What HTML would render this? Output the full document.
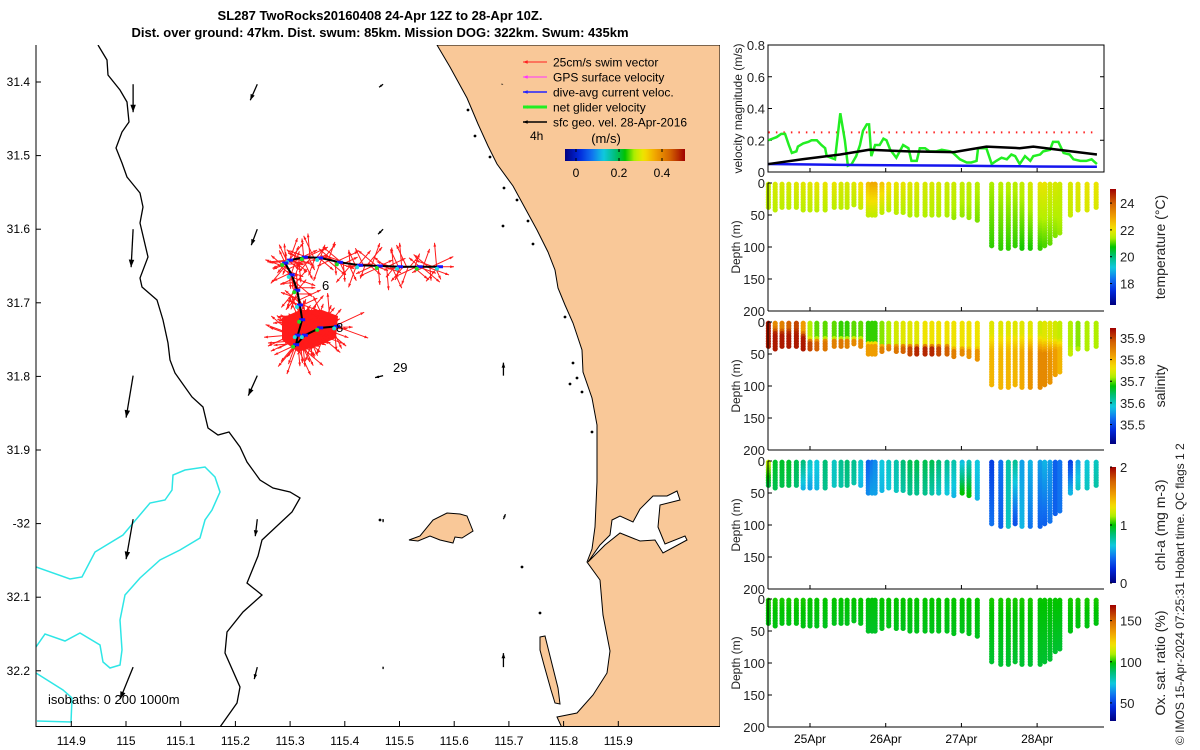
<!DOCTYPE html>
<html><head><meta charset="utf-8"><style>
html,body{margin:0;padding:0;background:#fff;}
svg{display:block;font-family:"Liberation Sans",sans-serif;}
</style></head><body>
<svg id="fig" width="1200" height="750" viewBox="0 0 1200 750" xmlns="http://www.w3.org/2000/svg">
<defs>
<clipPath id="mapclip"><rect x="36" y="45" width="684" height="681"/></clipPath>
<linearGradient id="jetH" x1="0" x2="1" y1="0" y2="0"></linearGradient>
<linearGradient id="jetV" x1="0" x2="0" y1="1" y2="0"></linearGradient>
</defs>
<text x="380" y="20" text-anchor="middle" font-size="13" font-weight="bold">SL287 TwoRocks20160408 24-Apr 12Z to 28-Apr 10Z.</text>
<text x="380" y="37" text-anchor="middle" font-size="13" font-weight="bold">Dist. over ground: 47km. Dist. swum: 85km. Mission DOG: 322km. Swum: 435km</text>
<g id="map"></g>
<g id="right"></g>
<text transform="translate(1184,745) rotate(-90)" font-size="12" fill="#222">© IMOS 15-Apr-2024 07:25:31 Hobart time. QC flags 1  2</text>
</svg>
<script>
// ---------- DATA ----------
const lonTicks=[114.9,115,115.1,115.2,115.3,115.4,115.5,115.6,115.7,115.8,115.9];
const latTicks=[31.4,31.5,31.6,31.7,31.8,31.9,32,32.1,32.2];
const latTickLabels=["31.4","31.5","31.6","31.7","31.8","31.9","-32","32.1","32.2"];
const trackLon=[115.574,115.537,115.501,115.464,115.428,115.391,115.355,115.327,115.300,115.291,115.303,115.313,115.318,115.322,115.314,115.311,115.327,115.355,115.386];
const trackLat=[31.651,31.651,31.651,31.650,31.649,31.645,31.639,31.638,31.642,31.646,31.662,31.683,31.703,31.723,31.744,31.757,31.744,31.734,31.732];
const geoLon=[115.013,115.240,115.470,115.690, 115.013,115.240,115.470, 115.013,115.240,115.470,115.690, 115.013,115.240,115.470,115.690, 115.013,115.240,115.470,115.690];
const geoLat=[31.403,31.403,31.403,31.403, 31.600,31.600,31.600, 31.799,31.799,31.799,31.799, 31.994,31.994,31.994,31.994, 32.195,32.195,32.195,32.195];
const geoU=[0.0,-0.07,-0.04,0, -0.02,-0.06,-0.05, -0.07,-0.09,-0.08,0.0, -0.07,-0.02,0.0,0.02, -0.13,-0.03,0.0,0.0];
const geoV=[-0.28,-0.16,-0.03,0, -0.38,-0.16,-0.05, -0.42,-0.2,-0.02,0.13, -0.40,-0.17,-0.03,0.05, -0.32,-0.12,-0.02,0.14];
// velocity panel
const velT=[24.45,24.56,24.62,24.67,24.72,24.76,24.82,24.84,24.91,24.98,25.02,25.09,25.15,25.20,25.22,25.33,25.40,25.46,25.50,25.55,25.61,25.66,25.70,25.75,25.78,25.81,25.86,25.92,25.97,26.01,26.06,26.14,26.23,26.30,26.34,26.41,26.45,26.52,26.58,26.67,26.74,26.85,26.89,26.98,27.07,27.13,27.20,27.22,27.33,27.40,27.46,27.53,27.60,27.66,27.71,27.77,27.84,27.91,27.95,28.04,28.08,28.17,28.21,28.28,28.35,28.43,28.48,28.57,28.65,28.72,28.79];
const velGreen=[0.20,0.22,0.24,0.24,0.17,0.12,0.13,0.16,0.18,0.19,0.20,0.20,0.17,0.15,0.10,0.08,0.37,0.20,0.04,0.05,0.10,0.17,0.26,0.30,0.30,0.10,0.17,0.17,0.21,0.20,0.14,0.09,0.17,0.15,0.07,0.07,0.15,0.15,0.13,0.13,0.14,0.13,0.12,0.08,0.06,0.06,0.07,0.15,0.15,0.05,0.07,0.09,0.08,0.11,0.10,0.05,0.10,0.07,0.10,0.11,0.13,0.14,0.19,0.19,0.12,0.11,0.08,0.07,0.07,0.08,0.05];
const netT=[24.45,24.9,25.4,25.78,26.3,26.9,27.33,27.77,27.95,28.28,28.79];
const netBlack=[0.05,0.08,0.11,0.14,0.13,0.125,0.16,0.15,0.16,0.14,0.11];
const curBlue=[0.05,0.048,0.045,0.043,0.042,0.04,0.038,0.036,0.035,0.034,0.033];
const swimRef=0.25;
// profiles
const profT=[24.45,24.54,24.63,24.72,24.82,24.91,25.00,25.09,25.20,25.32,25.41,25.49,25.58,25.67,25.77,25.82,25.86,25.95,26.04,26.14,26.23,26.32,26.41,26.52,26.61,26.70,26.81,26.90,27.01,27.10,27.21,27.40,27.52,27.62,27.71,27.80,27.91,28.04,28.10,28.17,28.24,28.30,28.44,28.54,28.66,28.78];
const profMax=[40,42,40,40,40,42,45,45,42,40,40,40,35,40,50,50,50,48,45,48,48,50,52,52,52,50,50,55,50,55,58,100,103,103,100,103,105,105,100,95,85,80,50,45,42,40];
const tempTop=[21.6,21.8,21.8,21.8,21.9,21.9,21.9,22.0,22.0,22.0,21.8,21.8,21.9,22.2,22.6,22.9,22.9,22.5,22.2,22.0,22.0,21.9,21.9,21.8,21.8,21.8,21.7,21.7,21.6,21.6,21.5,21.4,21.5,21.5,21.5,21.6,21.8,22.0,22.0,21.8,21.8,21.7,21.8,21.9,22.0,22.0];
const tempBot=[21.5,21.5,21.5,21.5,21.5,21.5,21.5,21.5,21.5,21.5,21.5,21.5,21.5,21.6,21.6,21.6,21.6,21.5,21.5,21.5,21.4,21.4,21.4,21.4,21.4,21.4,21.4,21.3,21.3,21.3,21.2,20.9,20.9,20.9,20.9,20.8,20.8,20.9,21.0,21.1,21.2,21.3,21.6,21.7,21.8,21.8];
const salTop=[35.93,35.84,35.85,35.88,35.90,35.82,35.72,35.70,35.70,35.70,35.69,35.69,35.70,35.70,35.69,35.69,35.69,35.71,35.72,35.74,35.75,35.75,35.75,35.76,35.76,35.76,35.76,35.76,35.76,35.76,35.76,35.75,35.75,35.75,35.75,35.75,35.75,35.74,35.75,35.75,35.74,35.73,35.72,35.71,35.72,35.72];
const salBot=[35.93,35.93,35.93,35.93,35.93,35.93,35.90,35.88,35.86,35.85,35.86,35.85,35.84,35.84,35.82,35.82,35.82,35.85,35.85,35.86,35.88,35.90,35.92,35.92,35.92,35.90,35.88,35.85,35.84,35.83,35.83,35.80,35.80,35.80,35.80,35.81,35.83,35.84,35.84,35.83,35.82,35.80,35.73,35.72,35.72,35.72];
const salMld=[2,8,10,10,10,15,25,25,25,25,25,25,25,25,30,30,30,35,35,35,35,35,35,35,35,35,35,40,40,40,40,20,20,20,20,20,20,20,25,25,25,25,40,40,40,40];
const chlTop=[1.2,0.95,0.95,0.95,0.9,0.85,0.7,0.65,0.85,0.7,0.8,0.85,0.8,0.7,0.4,0.45,0.5,0.65,0.7,0.75,0.85,0.9,0.9,0.9,0.9,0.85,0.8,0.75,0.6,0.7,0.65,0.3,0.45,0.75,0.8,0.55,0.6,0.55,0.6,0.55,0.4,0.45,0.3,0.55,0.65,0.7];
const chlBot=[0.9,0.9,0.9,0.9,0.85,0.6,0.55,0.6,0.8,0.7,0.75,0.8,0.75,0.6,0.5,0.55,0.55,0.6,0.65,0.7,0.75,0.8,0.8,0.8,0.75,0.7,0.65,0.6,1.0,1.0,0.6,0.45,0.4,0.7,0.35,0.6,0.45,0.4,0.4,0.45,0.4,0.45,0.6,0.7,0.7,0.75];
const oxTop=[100,100,100,100,100,100,99,99,99,99,99,99,99,99,98,98,98,99,99,99,99,99,99,99,99,99,99,99,99,99,99,100,100,100,100,100,100,99,99,99,99,99,100,100,100,100];
const oxBot=[97,97,97,97,97,97,96,96,96,96,96,96,96,96,95,95,95,96,96,96,96,96,96,96,96,96,96,96,96,96,96,94,94,94,94,94,94,94,94,94,94,94,97,97,97,97];
const dateTicks=[25,26,27,28];
const dateLabels=["25Apr","26Apr","27Apr","28Apr"];

// ---------- HELPERS ----------
const NS="http://www.w3.org/2000/svg";
function mk(tag,attrs,parent){const e=document.createElementNS(NS,tag);for(const k in attrs)e.setAttribute(k,attrs[k]);parent.appendChild(e);return e;}
function cl(v){return Math.max(0,Math.min(1,v));}
const CM=[[0,[0,0,128]],[0.12,[0,40,220]],[0.22,[16,110,240]],[0.32,[16,200,225]],[0.42,[0,190,120]],[0.5,[0,195,0]],[0.58,[180,240,0]],[0.66,[245,225,0]],[0.76,[240,160,0]],[0.88,[210,96,0]],[1,[160,0,0]]];
function jet(v){v=cl(v);for(let i=1;i<CM.length;i++){if(v<=CM[i][0]){const a=CM[i-1],b=CM[i];const f=(v-a[0])/(b[0]-a[0]);const c=a[1].map((x,k)=>Math.round(x+(b[1][k]-x)*f));return `rgb(${c[0]},${c[1]},${c[2]})`;}}return 'rgb(160,0,0)';}
['jetH','jetV'].forEach(id=>{const g=document.getElementById(id);for(let i=0;i<=40;i++){mk('stop',{offset:(i/40),'stop-color':jet(i/40)},g);}});
const lonX=lon=>126+(lon-115)*547;
const latY=lat=>82+(lat-31.4)*736;

// ---------- MAP ----------
const map=document.getElementById('map');
const clipG=mk('g',{'clip-path':'url(#mapclip)'},map);
const land=[[437,45],[450,67],[467,98],[478,124],[488,146],[497,164],[513,186],[525,208],[537,230],[548,252],[555,270],[558,288],[565,305],[573,323],[582,350],[583,372],[592,398],[597,425],[597,482],[595,527],[592,549],[587,562],[600,580],[603,615],[610,651],[607,673],[593,695],[577,713],[557,717],[563,730],[720,730],[720,45]];
let p=mk('polygon',{points:land.map(q=>q.join(',')).join(' '),fill:'#f9c898',stroke:'#000','stroke-width':1},clipG);


let lake=mk('polygon',{points:'588,562 600,545 610,535 612,520 620,516 633,522 640,509 653,496 667,496 677,491 680,500 660,505 658,527 665,544 685,536 687,540 663,553 655,540 640,541 620,533 605,545',fill:'#fff',stroke:'#000','stroke-width':1},clipG);


let isl=mk('polygon',{points:'409,540 420,536 433,520 447,513 460,514 467,516 473,531 462,538 455,537 453,543 440,540 430,536 418,541',fill:'#f9c898',stroke:'#000','stroke-width':1},clipG);


let isl2=mk('polygon',{points:'540,637 545,636 548,648 553,668 558,688 560,704 555,703 551,690 544,665 540,650',fill:'#f9c898',stroke:'#000','stroke-width':1},clipG);


const iso200=[[98,45],[107,60],[108,75],[120,90],[127,102],[129,122],[122,132],[116,148],[122,163],[127,177],[140,193],[143,207],[140,223],[148,257],[140,278],[142,287],[157,300],[163,320],[168,343],[170,360],[175,373],[192,397],[203,407],[208,428],[218,435],[229,432],[240,447],[247,462],[260,480],[273,488],[290,492],[300,498],[292,512],[262,540],[258,556],[247,583],[262,595],[243,612],[227,632],[225,653],[240,687],[237,703],[220,727]];
let l1=mk('polyline',{points:iso200.map(q=>q.join(',')).join(' '),fill:'none',stroke:'#000','stroke-width':1.3},clipG);


const iso1000a=[[36,567],[70,579],[82,577],[95,552],[123,535],[150,503],[165,500],[172,490],[173,475],[185,470],[205,467],[215,477],[220,492],[212,510],[205,520],[200,538],[180,550],[160,560],[140,578],[125,595],[120,620],[122,650],[120,665],[110,668],[103,662],[100,645],[80,633],[65,641],[45,634],[36,647]];
const iso1000b=[[36,673],[63,690],[72,698],[71,722],[37,721]];
[iso1000a,iso1000b].forEach((arr,i)=>{let l=mk('polyline',{points:arr.map(q=>q.join(',')).join(' '),fill:'none',stroke:'#2ee6e6','stroke-width':1.5},clipG);

});
[[468,110],[475,136],[490,157],[504,188],[517,200],[528,221],[503,226],[533,244],[565,317],[573,363],[577,378],[570,384],[582,392],[592,432],[522,567],[540,613],[380,520]].forEach(q=>{let d=mk('circle',{cx:q[0],cy:q[1],r:1.4,fill:'#000'},clipG);

});
function arrow(g,x1,y1,x2,y2,col,w,hs){mk('line',{x1,y1,x2,y2,stroke:col,'stroke-width':w},g);const a=Math.atan2(y2-y1,x2-x1);const h1=[x2-hs*Math.cos(a-0.35),y2-hs*Math.sin(a-0.35)],h2=[x2-hs*Math.cos(a+0.35),y2-hs*Math.sin(a+0.35)];mk('polygon',{points:`${x2},${y2} ${h1} ${h2}`,fill:col},g);}
const geoG=mk('g',{},clipG);


geoLon.forEach((lo,i)=>{const x=lonX(lo),y=latY(geoLat[i]);const dx=geoU[i]*100,dy=-geoV[i]*100;arrow(geoG,x,y,x+dx,y+dy,'#000',1.3,Math.min(8,2+Math.hypot(dx,dy)*0.25));});
const swimG=mk('g',{},clipG);


const lowCluster=mk('polygon',{points:'282,318 300,310 322,310 338,316 336,338 318,346 298,352 282,340',fill:'#ff1a1a'},swimG);


const angs=[0,40,85,130,175,220,265,310,20,65,110,155,200,245,290,335];
for(let i=0;i<trackLon.length-1;i++){const x0=lonX(trackLon[i]),y0=latY(trackLat[i]),x1=lonX(trackLon[i+1]),y1=latY(trackLat[i+1]);
 const dense=(i>=13)?18:12;
 for(let k=0;k<dense;k++){const f=k/dense;const x=x0+(x1-x0)*f,y=y0+(y1-y0)*f;const a=angs[(i*5+k*3)%16]*Math.PI/180;const L=(i>=13?24:14)+(k%3)*5;
  arrow(swimG,x,y,x+L*Math.cos(a),y+L*Math.sin(a),'#ff1a1a',1,4);}}
const trk=mk('polyline',{points:trackLon.map((lo,i)=>lonX(lo)+','+latY(trackLat[i])).join(' '),fill:'none',stroke:'#000','stroke-width':2},clipG);


trackLon.forEach((lo,i)=>{let c=mk('rect',{x:lonX(lo)-3,y:latY(trackLat[i])-1.5,width:6,height:3,fill:'#1515ff'},clipG);


let c2=mk('circle',{cx:lonX(lo)-3,cy:latY(trackLat[i])+2,r:2,fill:i%2?'#22dd22':'#22dddd'},clipG);

});
[['6',322,290],['8',336,332],['29',393,372]].forEach(t=>{let e=mk('text',{x:t[1],y:t[2],'font-size':13},clipG);e.textContent=t[0];

});
let isoT=mk('text',{x:48,y:704,'font-size':13},clipG);isoT.textContent='isobaths: 0   200  1000m';


const leg=mk('g',{},map);


const legItems=[['25cm/s swim vector','#ff2020',1],['GPS surface velocity','#ff33ff',1],['dive-avg current veloc.','#2222ff',1.5],['net glider velocity','#22ee22',3],['sfc geo. vel. 28-Apr-2016','#000',1.5]];
legItems.forEach((it,i)=>{const y=62+i*15;const g=mk('g',{},leg);


arrow(g,547,y,523,y,it[1],it[2],5);const t=mk('text',{x:553,y:y+4.5,'font-size':12},g);t.textContent=it[0];});
let t4=mk('text',{x:530,y:140,'font-size':12},leg);t4.textContent='4h';
let tms=mk('text',{x:606,y:143,'font-size':13,'text-anchor':'middle'},leg);tms.textContent='(m/s)';
mk('rect',{x:565,y:149,width:120,height:12,fill:'url(#jetH)'},leg);
[[0,576],[0.2,619],[0.4,662]].forEach(q=>{mk('line',{x1:q[1],x2:q[1],y1:149,y2:152,stroke:'#000'},leg);mk('line',{x1:q[1],x2:q[1],y1:158,y2:161,stroke:'#000'},leg);let t=mk('text',{x:q[1],y:177,'font-size':12,'text-anchor':'middle'},leg);t.textContent=String(q[0]);});
const ax=mk('g',{},map);


mk('line',{x1:36,y1:45,x2:36,y2:727,stroke:'#000'},ax);mk('line',{x1:36,y1:726.5,x2:720,y2:726.5,stroke:'#000'},ax);
lonTicks.forEach(l=>{const x=lonX(l);mk('line',{x1:x,x2:x,y1:726,y2:721,stroke:'#000'},ax);let t=mk('text',{x:x,y:745,'font-size':12,'text-anchor':'middle'},ax);t.textContent=String(l);

});
latTicks.forEach((l,i)=>{const y=latY(l);mk('line',{x1:36,x2:41,y1:y,y2:y,stroke:'#000'},ax);let t=mk('text',{x:30,y:y+4,'font-size':12,'text-anchor':'end'},ax);t.textContent=latTickLabels[i];

});

// ---------- RIGHT PANELS ----------
const R=document.getElementById('right');
const L=768,RR=1104,T0=24.445,PXD=75.7;
const tx=t=>L+(t-T0)*PXD;
function dateAxis(g,bot,labels){dateTicks.forEach((d,i)=>{const x=tx(d);mk('line',{x1:x,x2:x,y1:bot,y2:bot-4,stroke:'#000'},g);if(labels){let t=mk('text',{x:x,y:bot+16,'font-size':12,'text-anchor':'middle'},g);t.textContent=dateLabels[i];

}});}
const vp=mk('g',{},R);


const vTop=45,vBot=172;const vy=v=>vBot-v/0.8*(vBot-vTop);
mk('rect',{x:L,y:vTop,width:RR-L,height:vBot-vTop,fill:'none',stroke:'#000'},vp);
[0,0.2,0.4,0.6,0.8].forEach(v=>{const y=vy(v);mk('line',{x1:L,x2:L+4,y1:y,y2:y,stroke:'#000'},vp);mk('line',{x1:RR,x2:RR-4,y1:y,y2:y,stroke:'#000'},vp);let t=mk('text',{x:765,y:y+5,'font-size':13,'text-anchor':'end','fill':'#222'},vp);t.textContent=String(v);});
let vl=mk('text',{transform:`translate(742,${(vTop+vBot)/2}) rotate(-90)`,'font-size':12,'text-anchor':'middle','fill':'#222'},vp);vl.textContent='velocity magnitude (m/s)';


dateAxis(vp,vBot,false);
let sw=mk('line',{x1:tx(velT[0]),x2:tx(velT[velT.length-1]),y1:vy(swimRef),y2:vy(swimRef),stroke:'#ff2020','stroke-width':2,'stroke-dasharray':'1.5 6'},vp);


let gl=mk('polyline',{points:velT.map((t,i)=>tx(t)+','+vy(velGreen[i])).join(' '),fill:'none',stroke:'#22ee22','stroke-width':2.5},vp);


let bl=mk('polyline',{points:netT.map((t,i)=>tx(t)+','+vy(curBlue[i])).join(' '),fill:'none',stroke:'#1515ee','stroke-width':2.5},vp);


let kl=mk('polyline',{points:netT.map((t,i)=>tx(t)+','+vy(netBlack[i])).join(' '),fill:'none',stroke:'#000','stroke-width':2.5},vp);


const panels=[
 {name:'temperature',top:183,top2:tempTop,bot:tempBot,mld:null,min:16.4,max:25.05,ticks:[18,20,22,24],label:'temperature (°C)'},
 {name:'salinity',top:322,top2:salTop,bot:salBot,mld:salMld,min:35.41,max:35.946,ticks:[35.5,35.6,35.7,35.8,35.9],label:'salinity'},
 {name:'chlorophyll',top:461,top2:chlTop,bot:chlBot,mld:null,min:0,max:2,ticks:[0,1,2],label:'chl-a (mg m-3)'},
 {name:'oxygen',top:599,top2:oxTop,bot:oxBot,mld:null,min:28,max:169,ticks:[50,100,150],label:'Ox. sat. ratio (%)'}];
panels.forEach((P,pi)=>{const g=mk('g',{},R);


const H=128,bot=P.top+H;const dy=d=>P.top+d/200*H;
const dots=mk('g',{},g);
profT.forEach((t,i)=>{const x=tx(t);const md=profMax[i];const mld=P.mld?P.mld[i]:0;
 for(let d=2;d<=md;d+=4){let v;if(d<mld)v=P.top2[i];else{const f=(d-mld)/Math.max(1,md-mld);v=P.top2[i]+(P.bot[i]-P.top2[i])*(P.mld?Math.min(1,f*3):f);}
  mk('circle',{cx:x,cy:dy(d),r:2.6,fill:jet((v-P.min)/(P.max-P.min))},dots);}});
mk('line',{x1:L,y1:P.top,x2:L,y2:bot,stroke:'#000'},g);mk('line',{x1:L,y1:bot,x2:RR,y2:bot,stroke:'#000'},g);
[0,50,100,150,200].forEach(d=>{const y=dy(d);mk('line',{x1:L,x2:L+4,y1:y,y2:y,stroke:'#000'},g);let t=mk('text',{x:765,y:y+5,'font-size':13,'text-anchor':'end','fill':'#222'},g);t.textContent=String(d);});
let yl=mk('text',{transform:`translate(740,${P.top+H/2}) rotate(-90)`,'font-size':12,'text-anchor':'middle','fill':'#222'},g);yl.textContent='Depth (m)';


dateAxis(g,bot,pi==3);
const cb=mk('g',{},g);


const cT=P.top+6,cB=P.top+122;mk('rect',{x:1110,y:cT,width:6,height:cB-cT,fill:'url(#jetV)'},cb);
P.ticks.forEach(v=>{const y=cB-(v-P.min)/(P.max-P.min)*(cB-cT);mk('line',{x1:1110,x2:1112,y1:y,y2:y,stroke:'#000'},cb);let t=mk('text',{x:1120,y:y+5,'font-size':13,'fill':'#222'},cb);t.textContent=String(v);});
let cl2=mk('text',{transform:`translate(1165,${P.top+H/2}) rotate(-90)`,'font-size':14,'text-anchor':'middle','fill':'#222'},cb);cl2.textContent=P.label;


});
</script>
</body></html>
